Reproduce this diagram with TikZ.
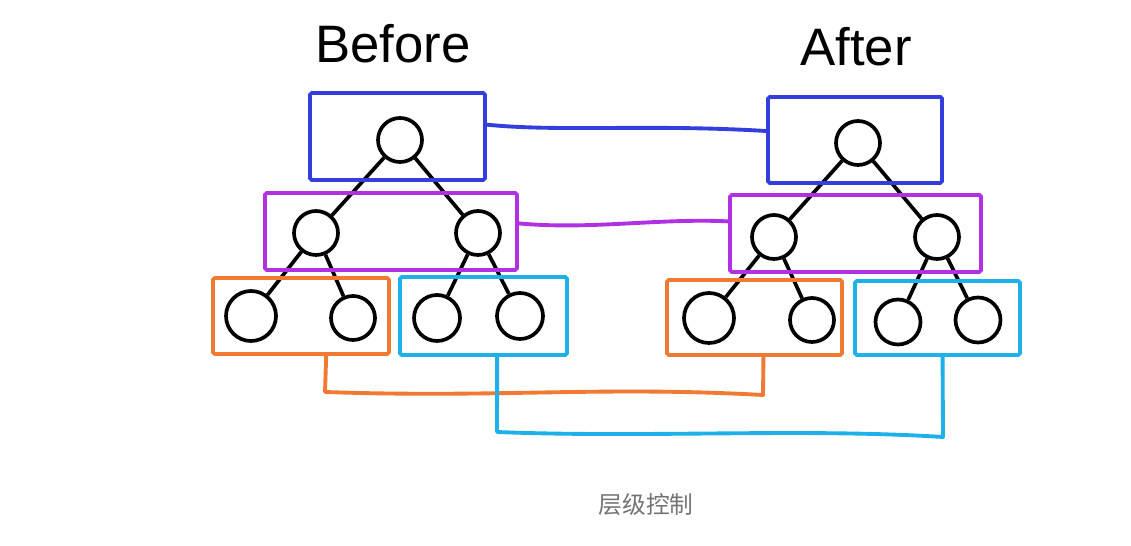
\documentclass[tikz,border=0pt]{standalone}
\usepackage{fontspec}
\setmainfont{Liberation Sans}
\newfontfamily\cjk{Noto Sans CJK SC}
\usetikzlibrary{fit,calc}
\definecolor{cblue}{RGB}{52,62,220}
\definecolor{cpurple}{RGB}{176,48,226}
\definecolor{corange}{RGB}{240,122,50}
\definecolor{ccyan}{RGB}{30,176,232}
\tikzset{
  grp/.style={draw, line width=2.2pt, inner sep=0pt, rounded corners=1pt},
  tn/.style={circle, draw=black, line width=2.1pt, inner sep=0pt, minimum size=#1},
  tn/.default=0.88cm,
  edge/.style={line width=2.1pt, black},
  link/.style={line width=2.2pt, line join=round, line cap=round},
  ttl/.style={font=\fontsize{30}{34}\selectfont},
}
\begin{document}
\begin{tikzpicture}[x=0.02cm,y=-0.02cm]
\path[fill=white, use as bounding box] (0,0) rectangle (1131,546);

\node[ttl] (tb) at (393,44) {Before};
\node[ttl] (ta) at (856,47) {After};

% left tree
\node[tn] (lr) at (400,140) {};
\node[tn] (la) at (316,233) {};
\node[tn] (lb) at (478,233) {};
\node[tn=1cm] (l1) at (251,316) {};
\node[tn=0.88cm] (l2) at (353,318) {};
\node[tn=0.92cm] (l3) at (437,318) {};
\node[tn=0.92cm] (l4) at (520,316) {};
\draw[edge] (lr) -- (la); \draw[edge] (lr) -- (lb);
\draw[edge] (la) -- (l1); \draw[edge] (la) -- (l2);
\draw[edge] (lb) -- (l3); \draw[edge] (lb) -- (l4);

% right tree
\node[tn] (rr) at (858,143) {};
\node[tn] (ra) at (774,237) {};
\node[tn] (rb) at (937,237) {};
\node[tn=1cm] (r1) at (709,318) {};
\node[tn=0.88cm] (r2) at (812,320) {};
\node[tn=0.9cm] (r3) at (898,322) {};
\node[tn=0.9cm] (r4) at (978,320) {};
\draw[edge] (rr) -- (ra); \draw[edge] (rr) -- (rb);
\draw[edge] (ra) -- (r1); \draw[edge] (ra) -- (r2);
\draw[edge] (rb) -- (r3); \draw[edge] (rb) -- (r4);

% group boxes
\node[grp, draw=cblue, fit={(310,93) (485,180)}] (Lb) {};
\node[grp, draw=cpurple, fit={(265,193) (517,270)}] (Lp) {};
\node[grp, draw=corange, fit={(213,278) (389,354)}] (Lo) {};
\node[grp, draw=ccyan, fit={(400,277) (567,355)}] (Lc) {};
\node[grp, draw=cblue, fit={(768,97) (942,183)}] (Rb) {};
\node[grp, draw=cpurple, fit={(730,195) (981,272)}] (Rp) {};
\node[grp, draw=corange, fit={(667,280) (842,355)}] (Ro) {};
\node[grp, draw=ccyan, fit={(855,281) (1020,355)}] (Rc) {};

% links
\draw[link, cblue] ($(Lb.north east)!0.37!(Lb.south east)$) .. controls (560,132) and (650,124) .. ($(Rb.north west)!0.4!(Rb.south west)$);
\draw[link, cpurple] ($(Lp.north east)!0.4!(Lp.south east)$) .. controls (590,230) and (660,218) .. ($(Rp.north west)!0.35!(Rp.south west)$);
\coordinate (oa) at (325,392);
\coordinate (ob) at (763,395);
\draw[link, corange] ($(Lo.south west)!0.64!(Lo.south east)$) -- (oa) .. controls (500,398) and (600,386) .. (ob) -- ($(Ro.south west)!0.55!(Ro.south east)$);
\coordinate (ca) at (497,432);
\coordinate (cb) at (943,437);
\draw[link, ccyan] ($(Lc.south west)!0.58!(Lc.south east)$) -- (ca) .. controls (650,438) and (800,428) .. (cb) -- ($(Rc.south west)!0.53!(Rc.south east)$);

\node[font=\cjk\fontsize{13.5}{16}\selectfont, text=black!55] (cap) at (646,505) {层级控制};
\end{tikzpicture}
\end{document}
